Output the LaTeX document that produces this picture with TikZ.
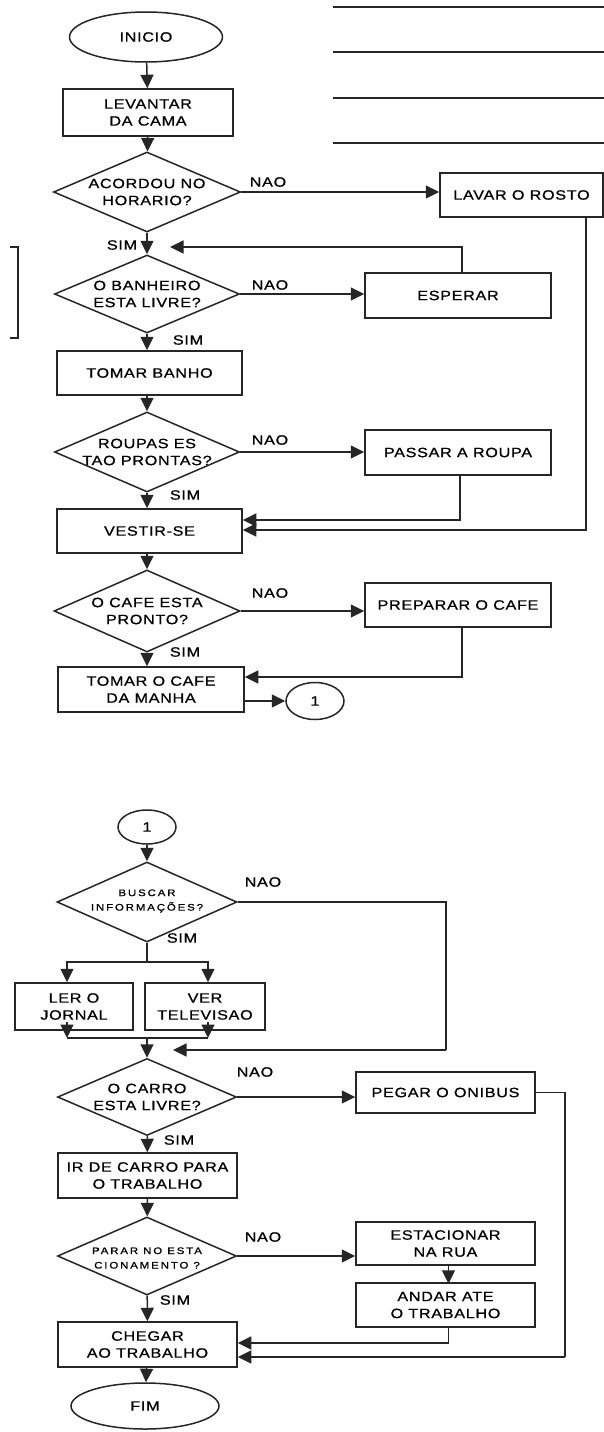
\documentclass[tikz,border=0pt]{standalone}
\usepackage{fontspec}
\setmainfont[FakeStretch=1.2,LetterSpace=5,FakeBold=0.8]{Liberation Sans}
\newfontfamily\smallfont[FakeStretch=1.2,LetterSpace=20,FakeBold=0.8]{Liberation Sans}
\usetikzlibrary{arrows.meta,shapes.geometric,calc}
\begin{document}
\begin{tikzpicture}[x=1pt,y=-1pt,
  every node/.style={font=\fontsize{13.5}{17}\selectfont, text=black, inner sep=0pt, align=center},
  ln/.style={draw=black!85, line width=1.5pt},
  arr/.style={ln, -{Triangle[length=13.5pt,width=13pt]}},
  procbox/.style={ln, rectangle},
  decis/.style={ln, diamond},
  term/.style={ln, ellipse},
  lbl/.style={font=\fontsize{13.5}{17}\selectfont},
  smalltxt/.style={font=\smallfont\fontsize{9.5}{14.5}\selectfont}
]
\useasboundingbox (0,0) rectangle (604,1432);
\fill[white] (0,0) rectangle (604,1432);

% top lines and bracket
\draw[ln] (333,7) -- (604,7);
\draw[ln] (333,52) -- (604,52);
\draw[ln] (333,98) -- (604,98);
\draw[ln] (333,143) -- (604,143);
\draw[ln] (10,247) -- (18,247) -- (18,338) -- (10,338);

% ---------- upper part ----------
\node[term, minimum width=153pt, minimum height=50pt] (inicio) at (146,37) {INICIO};
\node[procbox, minimum width=170pt, minimum height=47pt] (levantar) at (148,112.5) {LEVANTAR\\DA CAMA};
\node[decis, minimum width=187pt, minimum height=80pt] (acordou) at (147,192) {};
\node (acordout) at (147,192) {ACORDOU NO\\HORARIO?};
\node[procbox, minimum width=163pt, minimum height=44pt] (lavar) at (521.5,195) {LAVAR O ROSTO};
\node[lbl] (nao1) at (268,182) {NAO};
\node[lbl] (sim1) at (122,245) {SIM};

\node[decis, minimum width=185pt, minimum height=78pt] (banheiro) at (147,294) {};
\node (banheirot) at (147,294) {O BANHEIRO\\ESTA LIVRE?};
\node[procbox, minimum width=186pt, minimum height=45pt] (esperar) at (458,295.5) {ESPERAR};
\node[lbl] (nao2) at (270,285) {NAO};
\node[lbl] (sim2) at (188,340) {SIM};
\coordinate (ret1) at (170,247);

\node[procbox, minimum width=185pt, minimum height=44pt] (banho) at (149.5,373) {TOMAR BANHO};

\node[decis, minimum width=185pt, minimum height=80pt] (roupas) at (147,452) {};
\node (roupast) at (147,452) {ROUPAS ES\\TAO PRONTAS?};
\node[procbox, minimum width=186pt, minimum height=45pt] (passar) at (458,452.5) {PASSAR A ROUPA};
\node[lbl] (nao3) at (270,440) {NAO};
\node[lbl] (sim3) at (185,495) {SIM};

\node[procbox, minimum width=185pt, minimum height=44pt] (vestir) at (149.5,531) {VESTIR-SE};

\node[decis, minimum width=186pt, minimum height=82pt] (cafe) at (147,611) {};
\node (cafet) at (147,611) {O CAFE ESTA\\PRONTO?};
\node[procbox, minimum width=186pt, minimum height=44pt] (preparar) at (458,605) {PREPARAR O CAFE};
\node[lbl] (nao4) at (270,593) {NAO};
\node[lbl] (sim4) at (185,652) {SIM};

\node[procbox, minimum width=186pt, minimum height=45pt] (tomarcafe) at (151,689.5) {TOMAR O CAFE\\DA MANHA};
\node[term, minimum width=58pt, minimum height=37pt] (c1a) at (315,701) {1};

% connectors upper
\draw[arr] (inicio) -- (levantar);
\draw[arr] (levantar) -- (acordou);
\draw[arr] (acordou.east) -- (acordou.east -| lavar.west);
\draw[arr] (acordou) -- (banheiro);
\draw[arr] ($(esperar.north)+(4,0)$) |- (ret1);
\draw[arr] (banheiro.east) -- (banheiro.east -| esperar.west);
\draw[arr] (banheiro) -- (banheiro.south |- banho.north);
\draw[arr] (banheiro.south |- banho.south) -- (roupas);
\draw[arr] (roupas.east) -- (roupas.east -| passar.west);
\draw[arr] (roupas) -- (roupas.south |- vestir.north);
\draw[arr] ($(passar.south)+(2,0)$) |- ($(vestir.east)+(0,-11)$);
\draw[arr] ($(lavar.south east)+(-18,0)$) |- ($(vestir.east)+(0,-1)$);
\draw[arr] (cafe.north |- vestir.south) -- (cafe);
\draw[arr] (cafe.east) -- (cafe.east -| preparar.west);
\draw[arr] (cafe) -- (cafe.south |- tomarcafe.north);
\draw[arr] ($(preparar.south)+(4,0)$) |- ($(tomarcafe.east)+(0,-12.5)$);
\draw[arr] ($(tomarcafe.east)+(0,11.5)$) -- (c1a.west);

% ---------- lower part ----------
\node[term, minimum width=58pt, minimum height=34pt] (c1b) at (147,827) {1};
\node[decis, minimum width=180pt, minimum height=80pt] (buscar) at (147,902) {};
\node[smalltxt] (buscart) at (147,901) {BUSCAR\\INFORMAÇÕES?};
\node[lbl] (nao5) at (263,882) {NAO};
\node[lbl] (sim5) at (182,938) {SIM};
\coordinate (split) at (147,962);
\coordinate (bnr) at (446,1050);
\coordinate (bnend) at (173,1050);

\node[procbox, minimum width=118pt, minimum height=47pt] (ler) at (74,1006.5) {LER O\\JORNAL};
\node[procbox, minimum width=120pt, minimum height=47pt] (tv) at (205,1006.5) {VER\\TELEVISAO};
\coordinate (join) at (147,1038);
\coordinate (jl) at (67,1038);
\coordinate (jt) at (208,1038);
\coordinate (jl0) at (67,1022);
\coordinate (jt0) at (208,1022);

\node[decis, minimum width=179pt, minimum height=77pt] (carro) at (147,1097) {};
\node (carrot) at (147,1097) {O CARRO\\ESTA LIVRE?};
\node[procbox, minimum width=179pt, minimum height=41pt] (pegar) at (445.5,1092.5) {PEGAR O ONIBUS};
\node[lbl] (nao6) at (255,1072) {NAO};
\node[lbl] (sim6) at (179,1140) {SIM};
\coordinate (pr) at (565,1357);

\node[procbox, minimum width=179pt, minimum height=45pt] (ircarro) at (147.5,1175.5) {IR DE CARRO PARA\\O TRABALHO};

\node[decis, minimum width=179pt, minimum height=78pt] (parar) at (147,1256) {};
\node[smalltxt] (parart) at (147,1258) {PARAR NO ESTA\\CIONAMENTO ?};
\node[procbox, minimum width=179pt, minimum height=43pt] (estac) at (445.5,1243.5) {ESTACIONAR\\NA RUA};
\node[procbox, minimum width=179pt, minimum height=44pt] (andar) at (445.5,1305) {ANDAR ATE\\O TRABALHO};
\node[lbl] (nao7) at (263,1237) {NAO};
\node[lbl] (sim7) at (175,1300) {SIM};

\node[procbox, minimum width=179pt, minimum height=45pt] (chegar) at (147.5,1344.5) {CHEGAR\\AO TRABALHO};
\node[term, minimum width=148pt, minimum height=46pt] (fim) at (145,1406) {FIM};

% connectors lower
\draw[arr] (c1b) -- (buscar);
\draw[ln] (buscar.east) -| (bnr);
\draw[arr] (bnr) -- (bnend);
\draw[ln] (buscar.south) -- (split);
\draw[arr] (split) -| (ler.north -| jl);
\draw[arr] (split) -| (tv.north -| jt);
\draw[arr] (jl0) -- (jl);
\draw[arr] (jt0) -- (jt);
\draw[ln] (jl) -- (jt);
\draw[arr] (join) -- (carro);
\draw[arr] (carro.east) -- (carro.east -| pegar.west);
\draw[ln] (pegar.east) -| (pr);
\draw[arr] (pr) -- (pr -| chegar.east);
\draw[arr] (carro) -- (ircarro);
\draw[arr] (ircarro) -- (parar);
\draw[arr] (parar.east) -- (parar.east -| estac.west);
\draw[arr] ($(estac.south)+(3,0)$) -- ++(0,18);
\draw[arr] (parar) -- (chegar);
\draw[arr] ($(andar.south)+(3,0)$) |- ($(chegar.east)+(0,-1.5)$);
\draw[arr] (chegar) -- (fim);
\end{tikzpicture}
\end{document}
